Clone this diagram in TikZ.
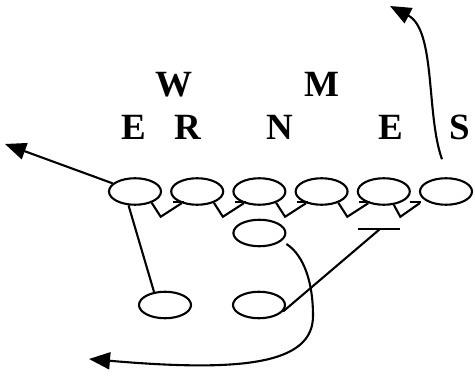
\documentclass[tikz,border=0pt]{standalone}
\usepackage{fontspec}
\setmainfont{Liberation Serif}
\usetikzlibrary{positioning,shapes.geometric,arrows.meta,calc}

\begin{document}
\begin{tikzpicture}[x=1pt, y=-1pt, line width=2.1pt,
  player/.style={draw, ellipse, minimum width=52pt, minimum height=26.5pt,
    inner sep=0pt},
  letter/.style={inner sep=0pt, font=\fontsize{37}{42}\selectfont\bfseries},
  route/.style={-{Triangle[length=21pt, width=17pt]}}
]
  \useasboundingbox (0,0) rectangle (475,377);

  % line
  \node[player] (e1) at (135,191.5) {};
  \node[player, right=8.1pt of e1] (e2) {};
  \node[player, right=8.1pt of e2] (e3) {};
  \node[player, right=8.1pt of e3] (e4) {};
  \node[player, right=8.1pt of e4] (e5) {};
  \node[player, right=8.1pt of e5] (e6) {};

  % backs
  \node[player, below=12.9pt of e3] (nm) {};
  \node[player] (nbl) at (165,305) {};
  \node[player] (nbr) at (259,305) {};

  % defence
  \node[letter] (labW)  at (173.5,85)  {W};
  \node[letter] (labM)  at (322,84.5)  {M};
  \node[letter] (labE)  at (134,127.5) {E};
  \node[letter] (labR)  at (188,127.5) {R};
  \node[letter] (labN)  at (280,127.5) {N};
  \node[letter] (labEE) at (391,127.5) {E};
  \node[letter] (labS)  at (460,127.5) {S};

  % blocks along the line
  \foreach \a/\b in {1/2,2/3,3/4,4/5}{
    \draw (e\a.-34) -- ++(9,14) -- (e\b.217);
    \draw ($(e\b.217)+(-9,-1)$) -- ++(11,0);
  }
  \coordinate (endSix) at ($(e6.west)+(1,11.5)$);
  \draw (e5.-53) -- ++(6.5,12) -- (endSix);
  \draw ($(endSix)+(-10,-1)$) -- ++(11,0);

  \coordinate (barC) at (380,229);
  \draw (nbr.-15) -- (barC);
  \draw ($(barC)+(-22,0)$) -- ++(42,0);

  \draw (e1.245) -- (nbl.130);

  % routes
  \coordinate (tipL) at (5,144);
  \draw[route] (e1.160) -- (tipL);

  \coordinate (sStart) at ($(e6.north)+(-4,-18)$);
  \coordinate (tipS) at (390,6);
  \draw[route] (sStart) .. controls (426,115) and (436,30) .. (tipS);

  \coordinate (nStart) at ($(nm.east)+(0,11)$);
  \coordinate (tipN) at (89,359);
  \draw[route] (nStart) .. controls (305,256) and (313,285) .. (313,315)
    .. controls (314,365) and (240,372) .. (tipN);
\end{tikzpicture}
\end{document}
